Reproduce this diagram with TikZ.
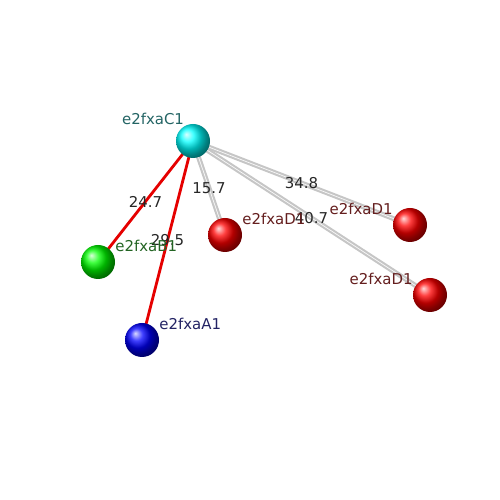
\documentclass[tikz,border=0pt]{standalone}
\usepackage{fontspec}
\setmainfont{DejaVu Sans}
\usetikzlibrary{positioning, backgrounds, calc}
\definecolor{tealtxt}{RGB}{35,100,100}
\definecolor{greentxt}{RGB}{35,100,35}
\definecolor{bluetxt}{RGB}{35,35,100}
\definecolor{redtxt}{RGB}{100,30,30}
\tikzset{%
  atom/.style={circle, minimum size=6.8mm, inner sep=0mm, shading=ball},
  tag/.style={font=\fontsize{8.5}{10}\selectfont, inner sep=0pt},
  bond/.style={draw=red!90!black, line width=1.6pt},
  link/.style={draw=gray!45, line width=1.2pt, double=white!95!gray, double distance=0.4pt},
  dist/.style={font=\fontsize{8.5}{10}\selectfont, inner sep=0pt, text=black!85}
}
\begin{document}
\begin{tikzpicture}
  \useasboundingbox (0,0) rectangle (10,10);

  \node[atom, ball color=cyan] (C1) at (3.86,7.18) {};
  \node[atom, ball color=green] (B1) at (1.96,4.76) {};
  \node[atom, ball color=blue] (A1) at (2.84,3.20) {};
  \node[atom, ball color=red] (D1) at (4.50,5.30) {};
  \node[atom, ball color=red] (D2) at (8.20,5.50) {};
  \node[atom, ball color=red] (D3) at (8.60,4.10) {};

  % edges
  \begin{scope}[on background layer]
    \draw[bond] (C1.center) to node[dist, midway] (dB) {24.7} (B1.center);
    \draw[bond] (C1.center) to node[dist, midway] (dA) {29.5} (A1.center);
    \draw[link] (C1.center) to node[dist, midway] (dD1) {15.7} (D1.center);
    \draw[link] (C1.center) to node[dist, midway] (dD2) {34.8} (D2.center);
    \draw[link] (C1.center) to node[dist, midway] (dD3) {40.7} (D3.center);
  \end{scope}

  % names
  \node[tag, text=tealtxt] (C1t) at ($(C1)+(-0.80,0.44)$) {e2fxaC1};
  \node[tag, text=greentxt, anchor=west] (B1t) at ($(B1)+(0.34,0.32)$) {e2fxaB1};
  \node[tag, text=bluetxt, anchor=west] (A1t) at ($(A1)+(0.34,0.32)$) {e2fxaA1};
  \node[tag, text=redtxt, anchor=west] (D1t) at ($(D1)+(0.34,0.32)$) {e2fxaD1};
  \node[tag, text=redtxt, anchor=east] (D2t) at ($(D2)+(-0.34,0.32)$) {e2fxaD1};
  \node[tag, text=redtxt, anchor=east] (D3t) at ($(D3)+(-0.34,0.32)$) {e2fxaD1};
\end{tikzpicture}
\end{document}
